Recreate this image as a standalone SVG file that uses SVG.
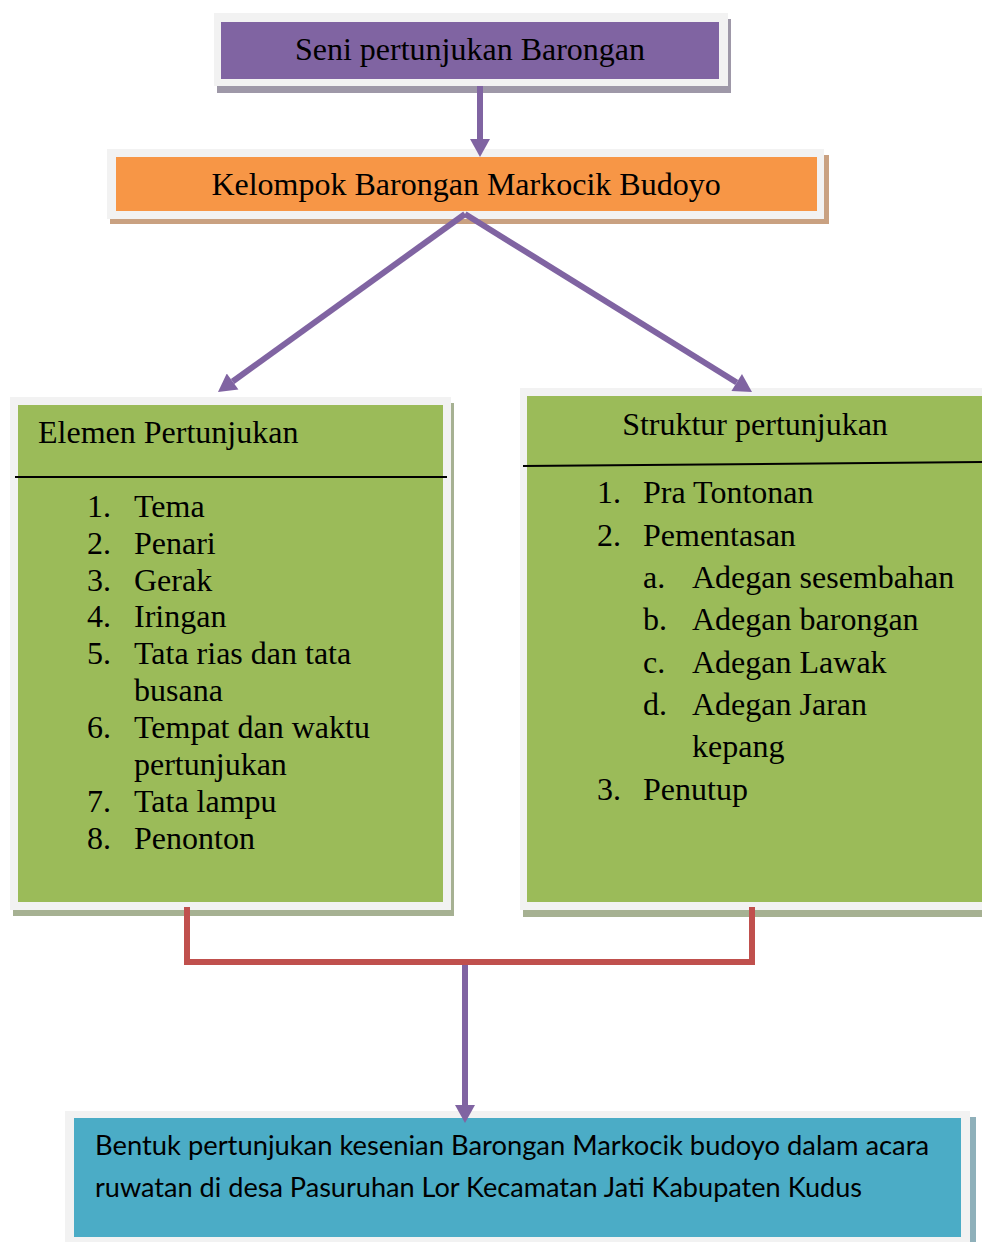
<svg xmlns="http://www.w3.org/2000/svg" width="982" height="1242" viewBox="0 0 982 1242">
<style>
.frame{fill:#f2f2f2}
.t{font-family:"Liberation Serif","Times New Roman",serif;font-size:32px;fill:#000}
.s{font-family:Lato,"Open Sans",sans-serif;font-size:26px;fill:#000}
.pl{stroke:#8064a2;stroke-width:6;fill:none}
.rl{stroke:#c0504d;stroke-width:6;fill:none}
</style>
<defs>
<marker id="ah" markerUnits="userSpaceOnUse" markerWidth="20" markerHeight="20" viewBox="0 0 18 20" refX="0" refY="10" orient="auto">
<path d="M0,0 L18,10 L0,20 z" fill="#8064a2"/>
</marker>
</defs>
<rect width="982" height="1242" fill="#fff"/>

<g id="node-seni">
<rect x="217" y="19" width="514" height="74" fill="#9e98a8"/>
<rect class="frame" x="214" y="13" width="514" height="73"/>
<rect x="221" y="22" width="498" height="57" fill="#8064a2"/>
<text class="t" x="470" y="60" text-anchor="middle">Seni pertunjukan Barongan</text>
</g>

<g id="node-kelompok">
<rect x="110" y="155" width="719" height="69" fill="#c9a181"/>
<rect class="frame" x="107" y="149" width="717" height="70"/>
<rect x="116" y="157" width="701" height="54" fill="#f79646"/>
<text class="t" x="466" y="195" text-anchor="middle">Kelompok Barongan Markocik Budoyo</text>
</g>

<g id="node-elemen">
<rect x="13" y="403" width="441" height="513" fill="#a6b192"/>
<rect class="frame" x="10" y="397" width="441" height="513"/>
<rect x="18" y="405" width="425" height="497" fill="#9bbb59"/>
<text class="t" x="38" y="443">Elemen Pertunjukan</text>
<line x1="15" y1="477" x2="447" y2="477" stroke="#000" stroke-width="2"/>
<g class="t">
<text x="87" y="517">1.</text><text x="134" y="517">Tema</text>
<text x="87" y="554">2.</text><text x="134" y="554">Penari</text>
<text x="87" y="591">3.</text><text x="134" y="591">Gerak</text>
<text x="87" y="627">4.</text><text x="134" y="627">Iringan</text>
<text x="87" y="664">5.</text><text x="134" y="664">Tata rias dan tata</text>
<text x="134" y="701">busana</text>
<text x="87" y="738">6.</text><text x="134" y="738">Tempat dan waktu</text>
<text x="134" y="775">pertunjukan</text>
<text x="87" y="812">7.</text><text x="134" y="812">Tata lampu</text>
<text x="87" y="849">8.</text><text x="134" y="849">Penonton</text>
</g>
</g>

<g id="node-struktur">
<rect x="523" y="394" width="470" height="523" fill="#a6b192"/>
<rect class="frame" x="520" y="388" width="470" height="522"/>
<rect x="527" y="396" width="460" height="506" fill="#9bbb59"/>
<text class="t" x="755" y="435" text-anchor="middle">Struktur pertunjukan</text>
<line x1="523" y1="466" x2="982" y2="462" stroke="#000" stroke-width="2"/>
<g class="t">
<text x="597" y="503">1.</text><text x="643" y="503">Pra Tontonan</text>
<text x="597" y="546">2.</text><text x="643" y="546">Pementasan</text>
<text x="643" y="588">a.</text><text x="692" y="588">Adegan sesembahan</text>
<text x="643" y="630">b.</text><text x="692" y="630">Adegan barongan</text>
<text x="643" y="673">c.</text><text x="692" y="673">Adegan Lawak</text>
<text x="643" y="715">d.</text><text x="692" y="715">Adegan Jaran</text>
<text x="692" y="757">kepang</text>
<text x="597" y="800">3.</text><text x="643" y="800">Penutup</text>
</g>
</g>

<g id="node-bentuk">
<rect x="68" y="1117" width="908" height="130" fill="#8fb0ba"/>
<rect class="frame" x="65" y="1111" width="905" height="135"/>
<rect x="74" y="1118" width="887" height="119" fill="#4bacc6"/>
<text class="s" x="95" y="1155" textLength="834" lengthAdjust="spacingAndGlyphs">Bentuk pertunjukan kesenian Barongan Markocik budoyo dalam acara</text>
<text class="s" x="95" y="1197" textLength="767" lengthAdjust="spacingAndGlyphs">ruwatan di desa Pasuruhan Lor Kecamatan Jati Kabupaten Kudus</text>
</g>

<g id="connectors">
<line class="pl" x1="480" y1="86" x2="480" y2="139" marker-end="url(#ah)"/>
<line class="pl" x1="465" y1="214" x2="232.6" y2="381.5" marker-end="url(#ah)"/>
<line class="pl" x1="465" y1="214" x2="736.7" y2="382.5" marker-end="url(#ah)"/>
<path class="rl" d="M187,907 V962 H752 V907"/>
<line class="pl" x1="465" y1="965" x2="465" y2="1105" marker-end="url(#ah)"/>
</g>
</svg>
